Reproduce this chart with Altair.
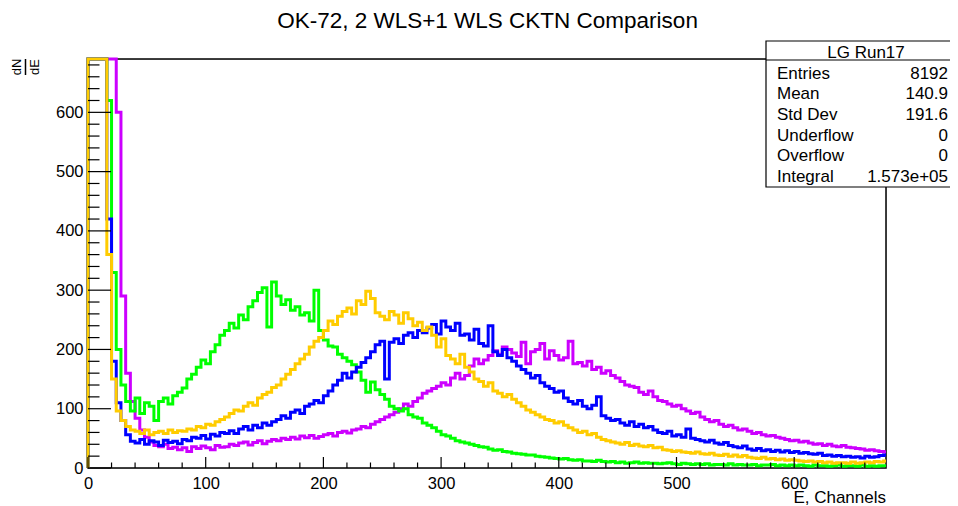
import altair as alt
import pandas as pd

BIN = 4  # channels per bin

green = [2000, 2000, 2000, 2000, 620, 330, 200, 140, 112, 96,
         118, 92, 110, 104, 80, 112, 118, 108, 122, 128,
         135, 150, 158, 170, 182, 176, 196, 208, 224, 232,
         244, 236, 258, 250, 272, 282, 296, 304, 238, 314,
         290, 276, 284, 266, 272, 258, 262, 248, 300, 232,
         216, 206, 204, 192, 186, 180, 174, 162, 148, 128,
         145, 132, 124, 116, 104, 100, 96, 100, 90, 86,
         84, 76, 72, 68, 62, 56, 54, 50, 46, 44,
         42, 40, 38, 36, 35, 32, 30, 31, 28, 27,
         25, 24, 23, 22, 22, 20, 19, 18, 17, 16,
         15, 16, 14, 13, 14, 12, 12, 11, 13, 11,
         10, 11, 9, 10, 8, 9, 10, 8, 9, 8,
         8, 7, 8, 9, 7, 6, 8, 7, 6, 7,
         6, 7, 5, 6, 6, 5, 7, 5, 6, 5,
         5, 6, 4, 5, 5, 6, 4, 5, 4, 5,
         4, 5, 4, 3, 5, 4, 4, 3, 4, 5,
         3, 4, 4, 3, 5, 3, 4, 3, 4, 4]

blue = [2000, 2000, 2000, 2000, 420, 180, 110, 80, 56, 45,
        42, 48, 40, 46, 44, 38, 47, 43, 45, 41,
        48, 46, 52, 50, 55, 49, 57, 54, 60, 58,
        63, 58, 66, 70, 64, 72, 68, 76, 72, 78,
        82, 88, 84, 94, 98, 92, 104, 108, 114, 110,
        122, 130, 140, 148, 160, 152, 162, 170, 178, 186,
        196, 208, 214, 150, 212, 218, 210, 224, 228, 220,
        232, 228, 236, 242, 226, 248, 238, 232, 244, 224,
        226, 216, 234, 210, 206, 240, 196, 190, 200, 186,
        180, 172, 166, 160, 152, 156, 144, 138, 134, 128,
        130, 118, 112, 108, 114, 104, 100, 106, 120, 88,
        84, 80, 82, 76, 72, 78, 70, 74, 68, 70,
        64, 60, 58, 62, 54, 56, 52, 66, 50, 48,
        46, 44, 47, 42, 40, 43, 38, 36, 34, 37,
        32, 30, 33, 29, 31, 28, 30, 27, 29, 26,
        28, 25, 26, 24, 23, 25, 21, 22, 20, 21,
        19, 20, 18, 19, 17, 20, 18, 19, 21, 22]

yellow = [2000, 2000, 2000, 2000, 360, 150, 96, 80, 70, 64,
          62, 58, 64, 56, 60, 62, 58, 64, 60, 63,
          62, 66, 64, 70, 68, 74, 72, 78, 82, 86,
          92, 98, 96, 104, 110, 106, 118, 124, 128, 136,
          140, 150, 158, 166, 176, 184, 192, 204, 214, 220,
          232, 248, 242, 256, 264, 270, 260, 282, 276, 298,
          286, 262, 256, 250, 264, 258, 244, 262, 252, 240,
          246, 232, 238, 224, 204, 218, 190, 184, 176, 192,
          170, 162, 150, 146, 138, 144, 130, 126, 120, 124,
          116, 110, 104, 98, 94, 90, 86, 82, 80, 76,
          78, 72, 68, 64, 60, 62, 56, 58, 52, 48,
          46, 44, 42, 40, 43, 38, 40, 37, 36, 38,
          34, 35, 31, 30, 28, 29, 27, 26, 25, 27,
          24, 23, 25, 22, 21, 23, 20, 22, 19, 21,
          18, 17, 16, 18, 15, 16, 14, 15, 13, 14,
          13, 12, 11, 12, 10, 11, 9, 10, 8, 9,
          9, 8, 10, 8, 9, 10, 9, 11, 10, 12]

magenta = [2000, 2000, 2000, 2000, 2000, 2000, 600, 290, 160, 112,
           84, 64, 52, 44, 38, 36, 40, 33, 35, 31,
           34, 28, 36, 33, 37, 34, 31, 38, 35, 36,
           40, 38, 42, 44, 39, 43, 46, 41, 45, 48,
           46, 50, 48, 52, 49, 54, 51, 55, 50, 53,
           56, 58, 54, 60, 62, 59, 64, 66, 70, 68,
           74, 78, 82, 86, 90, 94, 100, 108, 104, 112,
           118, 126, 130, 134, 138, 144, 140, 152, 160, 150,
           156, 172, 184, 176, 182, 190, 198, 192, 204, 200,
           194, 188, 212, 176, 196, 200, 210, 184, 198, 190,
           182, 186, 214, 176, 178, 172, 180, 166, 170, 160,
           164, 156, 152, 146, 140, 138, 136, 128, 124, 130,
           120, 114, 112, 108, 104, 106, 100, 96, 92, 94,
           86, 82, 78, 80, 74, 70, 72, 68, 64, 66,
           62, 58, 60, 56, 54, 55, 52, 50, 48, 46,
           47, 44, 45, 42, 40, 41, 38, 40, 37, 36,
           38, 35, 34, 33, 32, 30, 31, 29, 28, 27]

series = [("magenta", magenta, "#cc00ff"),
          ("green", green, "#00ff00"),
          ("blue", blue, "#0000ff"),
          ("yellow", yellow, "#ffcc00")]

x_major = [0, 100, 200, 300, 400, 500, 600]
x_minor = [v for v in range(20, 680, 20) if v % 100 != 0]
y_major = [0, 100, 200, 300, 400, 500, 600]
y_minor = [v for v in range(20, 690, 20) if v % 100 != 0]

title_text = "OK-72, 2 WLS+1 WLS CKTN Comparison"
stats_header = "LG Run17"
stats_labels = ["Entries", "Mean", "Std Dev", "Underflow", "Overflow", "Integral"]
stats_values = ["8192", "140.9", "191.6", "0", "0", "1.573e+05"]
x_title = "E, Channels"

FONT = "Liberation Sans"
W, H = 798, 409

xscale = alt.Scale(domain=[0, 678], clamp=True, nice=False, zero=False)
yscale = alt.Scale(domain=[0, 690], clamp=True, nice=False, zero=False)

xaxis = alt.Axis(values=x_major, format="d", labelFont=FONT, labelFontSize=16.5,
                 labelColor="black", ticks=False, tickSize=0, domain=False, grid=False,
                 labelPadding=7, title=None, labelFlush=False, labelOverlap=False)
yaxis = alt.Axis(values=y_major, format="d", labelFont=FONT, labelFontSize=16.5,
                 labelColor="black", ticks=False, tickSize=0, domain=False, grid=False,
                 labelPadding=5, title=None, labelOverlap=False)

dummy = pd.DataFrame({"d": [0]})

layers = []

# frame
layers.append(alt.Chart(dummy).mark_rect(fill=None, stroke="black", strokeWidth=1.5).encode(
    x=alt.value(0), x2=alt.value(W), y=alt.value(0), y2=alt.value(H)))

# histograms
for name, counts, col in series:
    xs = [0] + [i * BIN for i in range(len(counts))] + [len(counts) * BIN]
    ys = [0] + list(counts) + [counts[-1]]
    df = pd.DataFrame({"E": xs, "N": ys, "i": list(range(len(xs)))})
    layers.append(alt.Chart(df).mark_line(interpolate="step-after", strokeWidth=3, color=col).encode(
        x=alt.X("E:Q", scale=xscale, axis=xaxis),
        y=alt.Y("N:Q", scale=yscale, axis=yaxis),
        order="i:Q"))

# ticks
def tick_layer(vals, axis, length):
    df = pd.DataFrame({"v": vals})
    if axis == "x":
        return alt.Chart(df).mark_rule(color="black", strokeWidth=1.2).encode(
            x=alt.X("v:Q", scale=xscale), y=alt.value(H), y2=alt.value(H - length))
    return alt.Chart(df).mark_rule(color="black", strokeWidth=1.2).encode(
        y=alt.Y("v:Q", scale=yscale), x=alt.value(0), x2=alt.value(length))

layers.append(tick_layer(x_major, "x", 11))
layers.append(tick_layer(x_minor, "x", 5.5))
layers.append(tick_layer(y_major, "y", 23))
layers.append(tick_layer(y_minor, "y", 11.5))

# stats box (runs off the right edge like the reference)
BX0, BX1, BY0, BY1 = 678, 885, -18, 128
layers.append(alt.Chart(dummy).mark_rect(fill="white", stroke="black", strokeWidth=1.2).encode(
    x=alt.value(BX0), x2=alt.value(BX1), y=alt.value(BY0), y2=alt.value(BY1)))
layers.append(alt.Chart(dummy).mark_rule(color="black", strokeWidth=1.2).encode(
    x=alt.value(BX0), x2=alt.value(BX1), y=alt.value(1)))
layers.append(alt.Chart(dummy).mark_text(font=FONT, fontSize=17, align="center", baseline="alphabetic",
                                         color="black").encode(
    x=alt.value(778), y=alt.value(-1.5), text=alt.value(stats_header)))
row_y = [19.5, 40.2, 60.9, 81.6, 102.3, 123.0]
for lab, val, yy in zip(stats_labels, stats_values, row_y):
    layers.append(alt.Chart(dummy).mark_text(font=FONT, fontSize=17, align="left", baseline="alphabetic",
                                             color="black").encode(
        x=alt.value(689), y=alt.value(yy), text=alt.value(lab)))
    layers.append(alt.Chart(dummy).mark_text(font=FONT, fontSize=17, align="right", baseline="alphabetic",
                                             color="black").encode(
        x=alt.value(860), y=alt.value(yy), text=alt.value(val)))

# title
layers.append(alt.Chart(dummy).mark_text(font=FONT, fontSize=22.5, align="center", baseline="alphabetic",
                                         color="black").encode(
    x=alt.value(399.5), y=alt.value(-31), text=alt.value(title_text)))

# x title
layers.append(alt.Chart(dummy).mark_text(font=FONT, fontSize=17, align="right", baseline="alphabetic",
                                         color="black").encode(
    x=alt.value(W), y=alt.value(443.5), text=alt.value(x_title)))

# y title dN/dE as a rotated fraction
layers.append(alt.Chart(dummy).mark_text(font=FONT, fontSize=13, align="center", baseline="middle",
                                         angle=270, color="black").encode(
    x=alt.value(-71), y=alt.value(8), text=alt.value("dN")))
layers.append(alt.Chart(dummy).mark_text(font=FONT, fontSize=13, align="center", baseline="middle",
                                         angle=270, color="black").encode(
    x=alt.value(-53), y=alt.value(8), text=alt.value("dE")))
layers.append(alt.Chart(dummy).mark_rule(color="black", strokeWidth=1.5).encode(
    x=alt.value(-62.5), y=alt.value(0), y2=alt.value(16)))

chart = alt.layer(*layers).properties(
    width=W, height=H,
    autosize=alt.AutoSizeParams(type="none"),
    padding={"left": 80, "top": 51, "right": 64, "bottom": 38},
    background="white",
).configure_view(stroke=None).configure(font=FONT)

chart.save("out.html", embed_options={"renderer": "svg", "actions": False})
